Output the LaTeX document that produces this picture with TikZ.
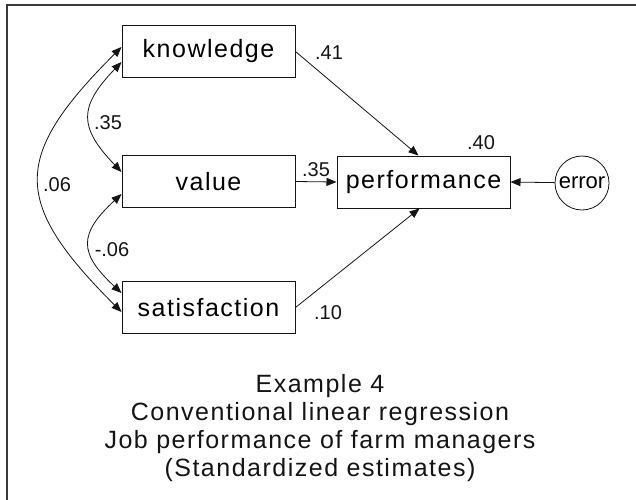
\documentclass[tikz,border=0pt]{standalone}
\usepackage{fontspec}
\setmainfont{Liberation Sans}
\usetikzlibrary{arrows.meta}
\definecolor{ink}{HTML}{141414}
\definecolor{frame}{HTML}{3A3A3A}

\tikzset{
  var/.style={draw=ink,line width=1pt,minimum width=173pt,minimum height=52pt,inner sep=0pt,
    font=\fontsize{25}{28}\selectfont\addfontfeatures{LetterSpace=6}},
  err/.style={draw=ink,circle,line width=.8pt,minimum size=54pt,inner sep=0pt,font=\fontsize{22}{24}\selectfont},
  est/.style={text=ink,inner sep=0pt,font=\fontsize{20}{22}\selectfont},
  path/.style={draw=ink,line width=.8pt,-{Triangle[length=10pt,width=8pt]}},
  cov/.style={draw=ink,line width=.8pt,{Triangle[length=10pt,width=8pt]}-{Triangle[length=10pt,width=8pt]}}
}

\begin{document}
\begin{tikzpicture}[x=1pt,y=-1pt]
  \useasboundingbox (0,0) rectangle (636,499);
  \draw[frame,line width=2pt] (7,5) rectangle (660,520);

  % observed variables
  \node[var] (know) at (208.5,51.5){knowledge};
  \node[var] (value) at (208.5,181.5){value};
  \node[var] (satis) at (208.5,307.5){satisfaction};
  \node[var] (perf) at (423.5,182){performance};
  \node[err] (error) at (582,183){error};

  % regression paths
  \draw[path] (know.east) -- ([xshift=-5pt]perf.north);
  \draw[path] (value.east) -- (perf.west);
  \draw[path] (satis.east) -- ([xshift=-4pt]perf.south);
  \draw[path] (error) -- (perf.east);

  % covariances
  \draw[cov] ([yshift=4.5pt]know.west) .. controls +(-110,110) and +(-110,-110) .. ([yshift=-4.5pt]satis.west);
  \draw[cov] ([yshift=-10.5pt]know.west) .. controls +(-43,45) and +(-43,-45) .. ([yshift=9.5pt]value.west);
  \draw[cov] ([yshift=-12.5pt]value.west) .. controls +(-43,40) and +(-43,-40) .. ([yshift=14.5pt]satis.west);

  % estimates
  \node[est] (wk) at (329,53){.41};
  \node[est] (wv) at (316,170){.35};
  \node[est] (ws) at (328,313){.10};
  \node[est] (rsq) at (481,143){.40};
  \node[est] (ckv) at (108,123){.35};
  \node[est] (cks) at (57,185){.06};
  \node[est] (cvs) at (112,250){-.06};

  % caption
  \node[text=ink,align=center,font=\fontsize{25}{28}\selectfont\addfontfeatures{LetterSpace=6}] (cap) at (320,428)
    {Example 4\\Conventional linear regression\\Job performance of farm managers\\(Standardized estimates)};
\end{tikzpicture}
\end{document}
